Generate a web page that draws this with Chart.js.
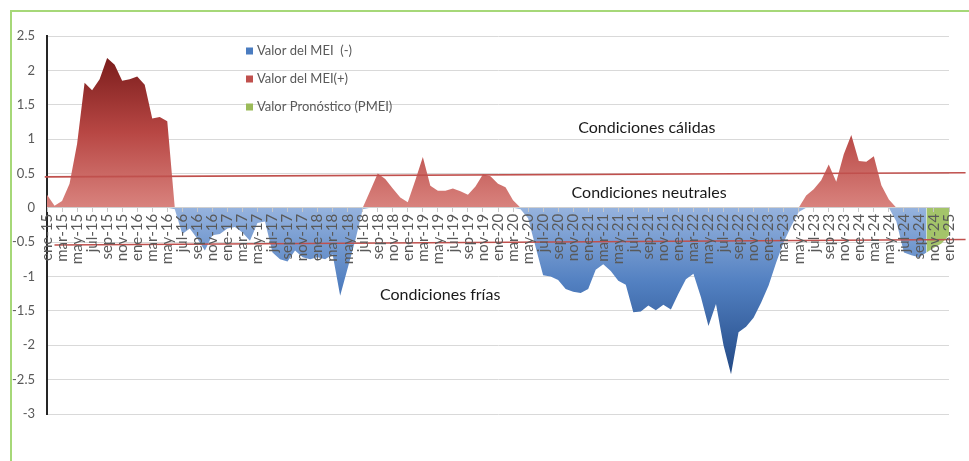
<!DOCTYPE html>
<html>
<head>
<meta charset="utf-8">
<script src="https://cdn.jsdelivr.net/npm/chart.js@4/dist/chart.umd.min.js"></script>
<style>
  html, body { margin: 0; padding: 0; background: #fff; }
  #wrap { position: relative; width: 969px; height: 461px; overflow: hidden; }
  #frame { position: absolute; left: 10px; top: 10px; width: 990px; height: 480px;
           border-top: 2px solid #a6d878; border-left: 2px solid #a6d878; box-sizing: border-box; }
  canvas { position: absolute; left: 0; top: 0; }
</style>
</head>
<body>
<div id="wrap">
  <div id="frame"></div>
  <canvas id="mei" width="969" height="461"></canvas>
</div>
<script>
// Monthly categories, ene-15 .. ene-25
const monthNames = ['ene','feb','mar','abr','may','jun','jul','ago','sep','oct','nov','dic'];
const months = [];
for (let yr = 15; yr <= 25; yr++) {
  for (let m = 0; m < 12; m++) {
    if (yr === 25 && m > 0) break;
    months.push(monthNames[m] + '-' + yr);
  }
}

// Observed MEI, ene-15 .. sep-24
const meiObserved = [
  0.19, 0.03, 0.10, 0.35, 0.93, 1.82, 1.71, 1.87, 2.18, 2.08, 1.85, 1.87,   // 2015
  1.91, 1.79, 1.30, 1.32, 1.26, -0.02, -0.38, -0.30, -0.45, -0.62, -0.40, -0.38, // 2016
  -0.30, -0.28, -0.36, -0.48, -0.22, -0.20, -0.65, -0.75, -0.78, -0.62, -0.72, -0.75, // 2017
  -0.72, -0.75, -0.68, -1.28, -0.88, -0.48, -0.02, 0.25, 0.50, 0.42, 0.28, 0.15, // 2018
  0.08, 0.40, 0.74, 0.32, 0.25, 0.25, 0.28, 0.24, 0.19, 0.31, 0.49, 0.46,   // 2019
  0.35, 0.30, 0.11, -0.02, -0.15, -0.57, -0.98, -1.00, -1.05, -1.18, -1.22, -1.24, // 2020
  -1.18, -0.90, -0.82, -0.92, -1.06, -1.12, -1.52, -1.51, -1.42, -1.49, -1.41, -1.48, // 2021
  -1.25, -1.04, -0.96, -1.30, -1.72, -1.40, -2.00, -2.42, -1.81, -1.73, -1.60, -1.38, // 2022
  -1.13, -0.80, -0.50, -0.27, -0.06, 0.18, 0.27, 0.40, 0.63, 0.38, 0.78, 1.06, // 2023
  0.68, 0.67, 0.75, 0.33, 0.12, -0.20, -0.65, -0.69, -0.72                // 2024
];

// Forecast PMEI, oct-24 .. ene-25
const meiForecast = [-0.65, -0.58, -0.52, -0.40];

// Thresholds of the neutral band (value at the left end, value at the right end)
const warmLimit = [0.45, 0.51];
const coldLimit = [-0.54, -0.46];

const zoneLabels = ['Condiciones cálidas', 'Condiciones neutrales', 'Condiciones frías'];
const seriesNames = ['Valor del MEI  (-)', 'Valor del MEI(+)', 'Valor Pronóstico (PMEI)'];

// Split the observed series into its negative and positive parts
const nObs = meiObserved.length;
const negSeries = months.map((_, i) => i < nObs ? Math.min(meiObserved[i], 0)
                                     : (i === nObs ? Math.min(meiForecast[0], 0) : null));
const posSeries = months.map((_, i) => i < nObs ? Math.max(meiObserved[i], 0) : null);
const fcSeries  = months.map((_, i) => i >= nObs ? meiForecast[i - nObs] : null);

const maxPos = Math.max(...meiObserved);
const minNeg = Math.min(...meiObserved);

function vGradient(chart, fromVal, toVal, stops) {
  const { ctx, chartArea, scales } = chart;
  if (!chartArea) return stops[stops.length - 1][1];
  const g = ctx.createLinearGradient(0, scales.y.getPixelForValue(fromVal), 0, scales.y.getPixelForValue(toVal));
  stops.forEach(([o, c]) => g.addColorStop(o, c));
  return g;
}

const FONT = 'Lato, "Open Sans", sans-serif';

// Neutral band limits drawn across the plot, on top of the areas
const limitLines = {
  id: 'limitLines',
  afterDatasetsDraw(chart) {
    const { ctx, scales: { x, y } } = chart;
    ctx.save();
    ctx.strokeStyle = '#c0504d';
    ctx.lineWidth = 1.6;
    [[warmLimit, -0.3], [coldLimit, 1.0]].forEach(([lim, startIdx]) => {
      ctx.beginPath();
      ctx.moveTo(x.getPixelForValue(startIdx), y.getPixelForValue(lim[0]));
      ctx.lineTo(x.getPixelForValue(122.2), y.getPixelForValue(lim[1]));
      ctx.stroke();
    });
    ctx.restore();
  }
};

// Zone captions and the inset legend
const captions = {
  id: 'captions',
  afterDraw(chart) {
    const { ctx, scales: { x, y } } = chart;
    ctx.save();
    ctx.fillStyle = '#1a1a1a';
    ctx.font = '16px ' + FONT;
    ctx.textAlign = 'center';
    ctx.textBaseline = 'middle';
    const spots = [[79.8, 1.16], [80.1, 0.22], [52.3, -1.26]];
    zoneLabels.forEach((t, k) => {
      ctx.fillText(t, x.getPixelForValue(spots[k][0]), y.getPixelForValue(spots[k][1]));
    });

    const swatch = ['#4a7cc0', '#c0504d', '#9bbb59'];
    ctx.font = '13px ' + FONT;
    ctx.textAlign = 'left';
    const lx = chart.chartArea.left + 199;
    seriesNames.forEach((t, k) => {
      const cy = 51 + k * 28;
      ctx.fillStyle = swatch[k];
      ctx.fillRect(lx, cy - 3.5, 7, 7);
      ctx.fillStyle = '#595959';
      ctx.fillText(t, lx + 11, cy);
    });
    ctx.restore();
  }
};

new Chart(document.getElementById('mei'), {
  type: 'line',
  data: {
    labels: months,
    datasets: [
      {
        label: seriesNames[0],
        data: negSeries,
        fill: 'origin',
        borderWidth: 0,
        pointRadius: 0,
        tension: 0,
        backgroundColor: (c) => vGradient(c.chart, 0, minNeg,
          [[0, '#96b3de'], [0.45, '#5280c1'], [1, '#224985']])
      },
      {
        label: seriesNames[1],
        data: posSeries,
        fill: 'origin',
        borderWidth: 0,
        pointRadius: 0,
        tension: 0,
        backgroundColor: (c) => vGradient(c.chart, maxPos, 0,
          [[0, '#7b1d1c'], [0.5, '#b84744'], [1, '#d9837e']])
      },
      {
        label: seriesNames[2],
        data: fcSeries,
        fill: 'origin',
        borderWidth: 0,
        pointRadius: 0,
        tension: 0,
        backgroundColor: '#a4c46a'
      }
    ]
  },
  options: {
    responsive: false,
    animation: false,
    devicePixelRatio: 1,
    layout: { padding: { top: 36, bottom: 47, left: 0, right: 16 } },
    plugins: { legend: { display: false }, tooltip: { enabled: false } },
    scales: {
      x: {
        type: 'category',
        position: { y: 0 },
        offset: false,
        grid: {
          z: 1,
          drawOnChartArea: false,
          drawTicks: true,
          tickLength: 4,
          tickColor: (c) => (c.index % 2 ? 'rgba(0,0,0,0)' : '#c8c8c8')
        },
        border: { z: 1, color: '#d0d0d0', width: 1 },
        ticks: {
          z: 1,
          autoSkip: false,
          minRotation: 90,
          maxRotation: 90,
          padding: 2,
          color: '#595959',
          font: { family: FONT, size: 15 },
          callback: (v, i) => (i % 2 === 0 ? months[i] : '')
        }
      },
      y: {
        min: -3,
        max: 2.5,
        afterFit: (s) => { s.width = 47; },
        grid: { color: '#d9d9d9', drawTicks: false },
        border: { color: '#262626', width: 2 },
        ticks: {
          stepSize: 0.5,
          padding: 12,
          color: '#595959',
          font: { family: FONT, size: 13 },
          callback: (v) => String(v)
        }
      }
    }
  },
  plugins: [limitLines, captions]
});
</script>
</body>
</html>
